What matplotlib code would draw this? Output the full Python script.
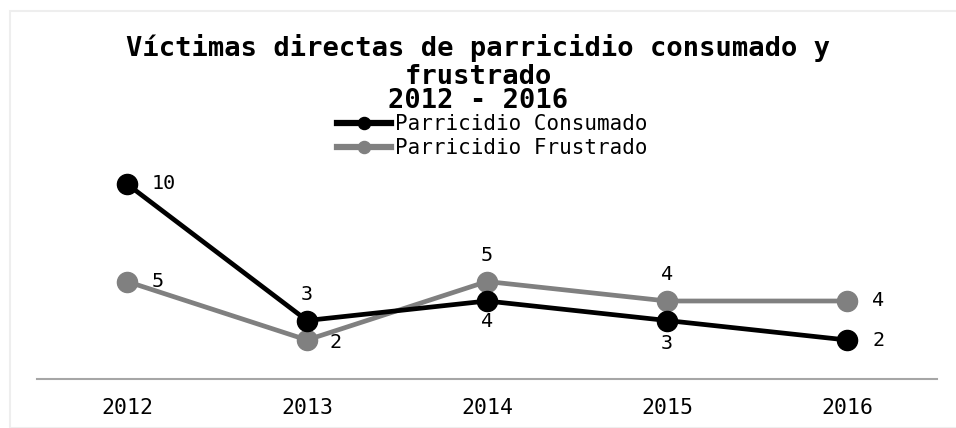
import matplotlib
matplotlib.use("Agg")
import matplotlib.pyplot as plt
from matplotlib.patches import Rectangle

years = ["2012", "2013", "2014", "2015", "2016"]
consumado = [10, 3, 4, 3, 2]
frustrado = [5, 2, 5, 4, 4]
series_names = ["Parricidio Consumado", "Parricidio Frustrado"]
title = "Víctimas directas de parricidio consumado y\nfrustrado"
subtitle = "2012 - 2016"

FONT = "DejaVu Sans Mono"
W, H = 956, 428
fig = plt.figure(figsize=(W / 100, H / 100), dpi=100)

# faint outer frame
fig.patches.append(Rectangle((10 / W, 0), 1, 1 - 11 / H, transform=fig.transFigure,
                             fill=False, edgecolor="#eeeeee", linewidth=1.5))

ax = fig.add_axes([37 / W, (H - 379) / H, 900 / W, (379 - 160) / H])
x = list(range(len(years)))
l1, = ax.plot(x, consumado, color="black", lw=3.4, marker="o", ms=14.5, zorder=3)
l2, = ax.plot(x, frustrado, color="#808080", lw=3.4, marker="o", ms=14.5, zorder=2)

ax.set_xlim(-0.5, len(years) - 0.5)
ax.set_ylim(0, (379 - 160) / 19.5)
for s in ["top", "right", "left"]:
    ax.spines[s].set_visible(False)
ax.spines["bottom"].set_color("#a6a6a6")
ax.spines["bottom"].set_linewidth(1.5)
ax.set_yticks([])
ax.set_xticks(x)
ax.set_xticklabels(years, fontfamily=FONT, fontsize=15.5)
ax.tick_params(axis="x", length=0, pad=14)

# label placement: (dx, dy) in points
c_off = [(18, 0, "left", "center"), (0, 12, "center", "bottom"), (0, -8, "center", "top"),
         (0, -10, "center", "top"), (18, 0, "left", "center")]
f_off = [(18, 0, "left", "center"), (16, -2, "left", "center"), (0, 12, "center", "bottom"),
         (0, 12, "center", "bottom"), (18, 0, "left", "center")]
for vals, offs in ((consumado, c_off), (frustrado, f_off)):
    for xi, v, (dx, dy, ha, va) in zip(x, vals, offs):
        ax.annotate(str(v), (xi, v), xytext=(dx, dy), textcoords="offset points",
                    ha=ha, va=va, fontfamily=FONT, fontsize=14.5)

fig.text(0.5, (H - 62) / H, title, ha="center", va="center", fontfamily=FONT,
         fontsize=19.5, fontweight="bold", linespacing=1.1)
fig.text(0.5, (H - 101) / H, subtitle, ha="center", va="center", fontfamily=FONT,
         fontsize=19.5, fontweight="bold")

leg = fig.legend([l1, l2], series_names, loc="center", bbox_to_anchor=(492 / W, (H - 136) / H),
                 frameon=False, prop={"family": FONT, "size": 15}, markerscale=0.6,
                 handlelength=2.6, handletextpad=0.2, labelspacing=0.2, borderpad=0)
for h in leg.legend_handles:
    h.set_linewidth(4.5)

fig.savefig("out.png", dpi=100)
